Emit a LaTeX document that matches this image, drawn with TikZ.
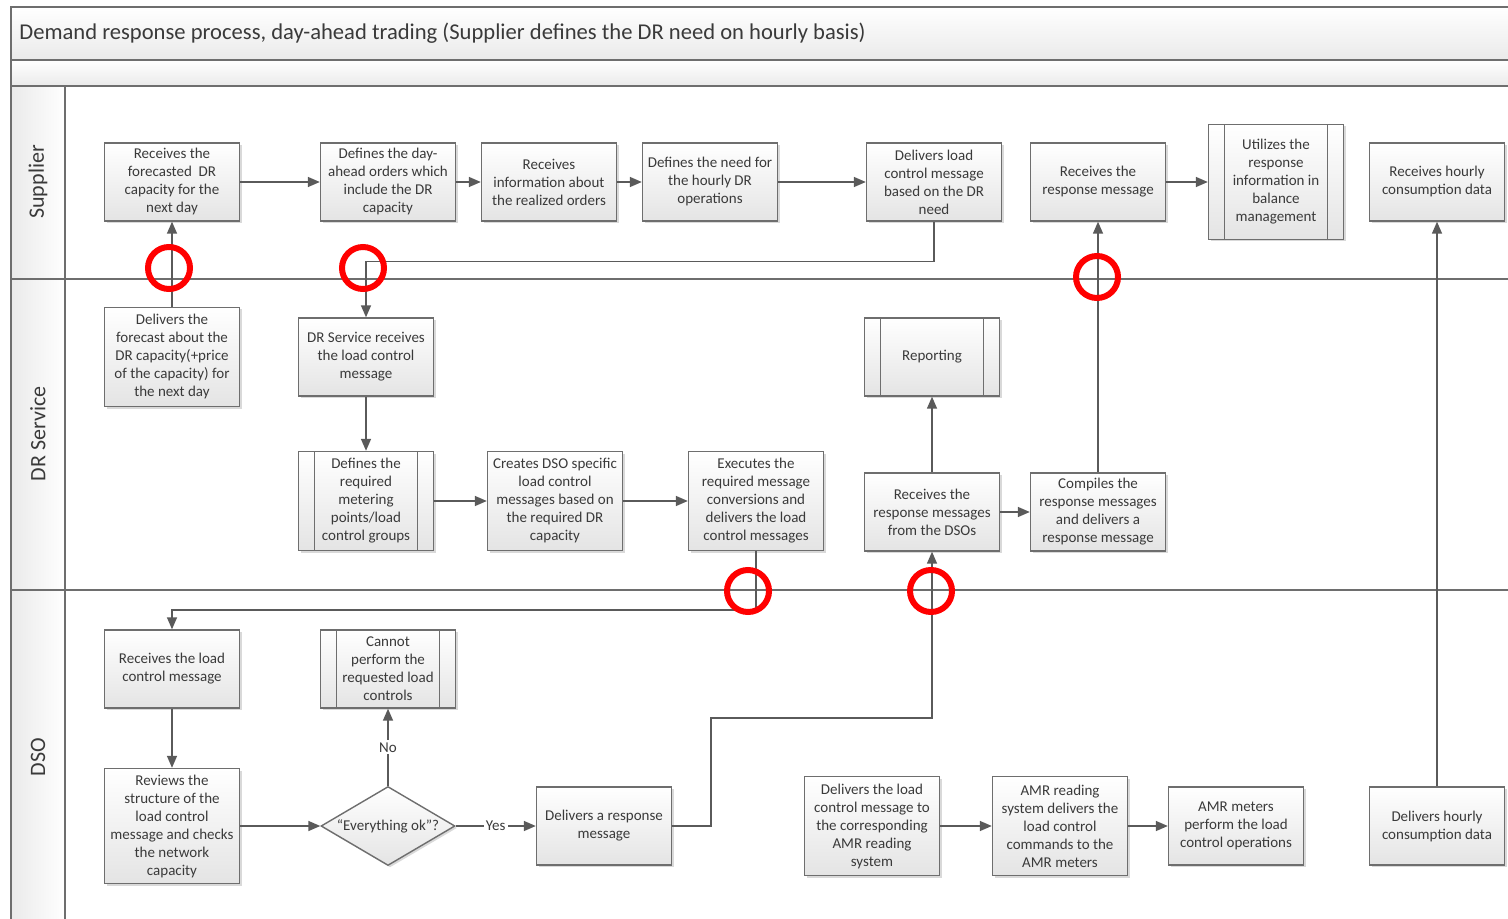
\documentclass[tikz,border=0pt]{standalone}
\usepackage{fontspec}
\setmainfont{Carlito}
\usetikzlibrary{arrows.meta,shapes.geometric,shadows,calc}
\definecolor{lineclr}{HTML}{6E6E6E}
\definecolor{connclr}{HTML}{5A5A5A}
\definecolor{txtclr}{HTML}{3A3A3A}
\definecolor{boxbot}{HTML}{E4E4E4}
\definecolor{bandclr}{HTML}{EAEAEA}
\definecolor{ringred}{HTML}{FF0000}
\begin{document}
\begin{tikzpicture}[x=0.5pt,y=-0.5pt,
  stepbox/.style={draw=lineclr, line width=0.7pt, top color=white, bottom color=boxbot,
    minimum width=67.5pt, minimum height=39pt, inner sep=1pt, align=center,
    font=\fontsize{7.5}{9}\selectfont, text=txtclr,
    drop shadow={shadow xshift=1pt, shadow yshift=-1pt, fill=black, opacity=0.15}},
  midbox/.style={stepbox, minimum height=49.5pt},
  tallbox/.style={stepbox, minimum height=57.5pt},
  subproc/.style={path picture={
    \draw[lineclr, line width=0.7pt]
      ([xshift=8pt]path picture bounding box.north west) -- ([xshift=8pt]path picture bounding box.south west)
      ([xshift=-8pt]path picture bounding box.north east) -- ([xshift=-8pt]path picture bounding box.south east);}},
  decision/.style={diamond, draw=lineclr, line width=0.7pt, top color=white, bottom color=boxbot,
    minimum width=67pt, minimum height=39.5pt, inner sep=0pt,
    drop shadow={shadow xshift=1pt, shadow yshift=-1pt, fill=black, opacity=0.15}},
  conn/.style={draw=connclr, line width=0.75pt, -{Triangle[length=6pt,width=5pt]}},
  edgelabel/.style={fill=white, inner sep=1pt, font=\fontsize{7.5}{9}\selectfont, text=txtclr},
  frame/.style={draw=lineclr, line width=0.8pt},
  ring/.style={draw=ringred, line width=3pt},
  lanelabel/.style={rotate=90, font=\fontsize{11}{13}\selectfont, text=txtclr}
]
\clip (0,0) rectangle (1508,919);
\fill[white] (0,0) rectangle (1508,919);

% pool header bands
\shade[top color=white, bottom color=bandclr] (11,7) rectangle (1530,60);
\shade[top color=white, bottom color=bandclr] (11,60) rectangle (1530,86);
% lane header column
\shade[left color=bandclr, right color=white] (11,86) rectangle (65,930);
\draw[frame] (1530,7) -- (11,7) -- (11,930);
\draw[frame] (11,60) -- (1530,60);
\draw[frame] (11,86) -- (1530,86);
\draw[frame] (65,86) -- (65,930);
\draw[frame, line width=1pt] (11,279) -- (1530,279);
\draw[frame, line width=1pt] (11,590) -- (1530,590);

\node[anchor=west, inner sep=0pt, font=\fontsize{11.3}{13}\selectfont, text=txtclr] (title) at (19,33)
  {Demand response process, day-ahead trading (Supplier defines the DR need on hourly basis)};

\node[lanelabel] (laneS) at (38,182) {Supplier};
\node[lanelabel] (laneD) at (38,434) {DR Service};
\node[lanelabel] (laneO) at (38,757) {DSO};

% Supplier lane
\node[stepbox] (S1) at (172,182) {Receives the\\forecasted\ \ DR\\capacity for the\\next day};
\node[stepbox] (S2) at (388,182) {Defines the day-\\ahead orders which\\include the DR\\capacity};
\node[stepbox] (S3) at (549,182) {Receives\\information about\\the realized orders};
\node[stepbox] (S4) at (710,182) {Defines the need for\\the hourly DR\\operations};
\node[stepbox] (S5) at (934,182) {Delivers load\\control message\\based on the DR\\need};
\node[stepbox] (S6) at (1098,182) {Receives the\\response message};
\node[tallbox, subproc] (S7) at (1276,182) {Utilizes the\\response\\information in\\balance\\management};
\node[stepbox] (S8) at (1437,182) {Receives hourly\\consumption data};

% DR Service lane
\node[midbox] (D1) at (172,357) {Delivers the\\forecast about the\\DR capacity(+price\\of the capacity) for\\the next day};
\node[stepbox] (D2) at (366,357) {DR Service receives\\the load control\\message};
\node[midbox, subproc] (D3) at (366,501) {Defines the\\required\\metering\\points/load\\control groups};
\node[midbox] (D4) at (555,501) {Creates DSO specific\\load control\\messages based on\\the required DR\\capacity};
\node[midbox] (D5) at (756,501) {Executes the\\required message\\conversions and\\delivers the load\\control messages};
\node[stepbox, subproc] (D6) at (932,357) {Reporting};
\node[stepbox] (D7) at (932,512) {Receives the\\response messages\\from the DSOs};
\node[stepbox] (D8) at (1098,512) {Compiles the\\response messages\\and delivers a\\response message};

% DSO lane
\node[stepbox] (O1) at (172,669) {Receives the load\\control message};
\node[stepbox, subproc] (O2) at (388,669) {Cannot\\perform the\\requested load\\controls};
\node[tallbox] (O3) at (172,826) {Reviews the\\structure of the\\load control\\message and checks\\the network\\capacity};
\node[decision, label={[font=\fontsize{7.5}{9}\selectfont, text=txtclr]center:“Everything ok”?}] (O4) at (388,826) {};
\node[stepbox] (O5) at (604,826) {Delivers a response\\message};
\node[midbox] (O6) at (872,826) {Delivers the load\\control message to\\the corresponding\\AMR reading\\system};
\node[midbox] (O7) at (1060,826) {AMR reading\\system delivers the\\load control\\commands to the\\AMR meters};
\node[stepbox] (O8) at (1236,826) {AMR meters\\perform the load\\control operations};
\node[stepbox] (O9) at (1437,826) {Delivers hourly\\consumption data};

\coordinate (jog) at (711,718);

% flows
\draw[conn] (D1.north) -- (S1.south);
\draw[conn] (S1.east) -- (S2.west);
\draw[conn] (S2.east) -- (S3.west);
\draw[conn] (S3.east) -- (S4.west);
\draw[conn] (S4.east) -- (S5.west);
\draw[conn] (S5.south) -- ++(0,40) -| (D2.north);
\draw[conn] (D2.south) -- (D3.north);
\draw[conn] (D3.east) -- (D4.west);
\draw[conn] (D4.east) -- (D5.west);
\draw[conn] (D5.south) -- ++(0,59) -| (O1.north);
\draw[conn] (O1.south) -- (O3.north);
\draw[conn] (O3.east) -- (O4.west);
\draw[conn] (O4.north) -- node[edgelabel] {No} (O2.south);
\draw[conn] (O4.east) -- node[edgelabel] {Yes} (O5.west);
\draw[conn] (O5.east) -| (jog) -| (D7.south);
\draw[conn] (D7.north) -- (D6.south);
\draw[conn] (D7.east) -- (D8.west);
\draw[conn] (D8.north) -- (S6.south);
\draw[conn] (S6.east) -- (S7.west);
\draw[conn] (O6.east) -- (O7.west);
\draw[conn] (O7.east) -- (O8.west);
\draw[conn] (O9.north) -- (S8.south);

% highlighted crossings
\draw[ring] (169,268) circle[radius=10.5pt];
\draw[ring] (363,268) circle[radius=10.5pt];
\draw[ring] (1097,277) circle[radius=10.5pt];
\draw[ring] (748,591) circle[radius=10.5pt];
\draw[ring] (931,591) circle[radius=10.5pt];
\end{tikzpicture}
\end{document}
